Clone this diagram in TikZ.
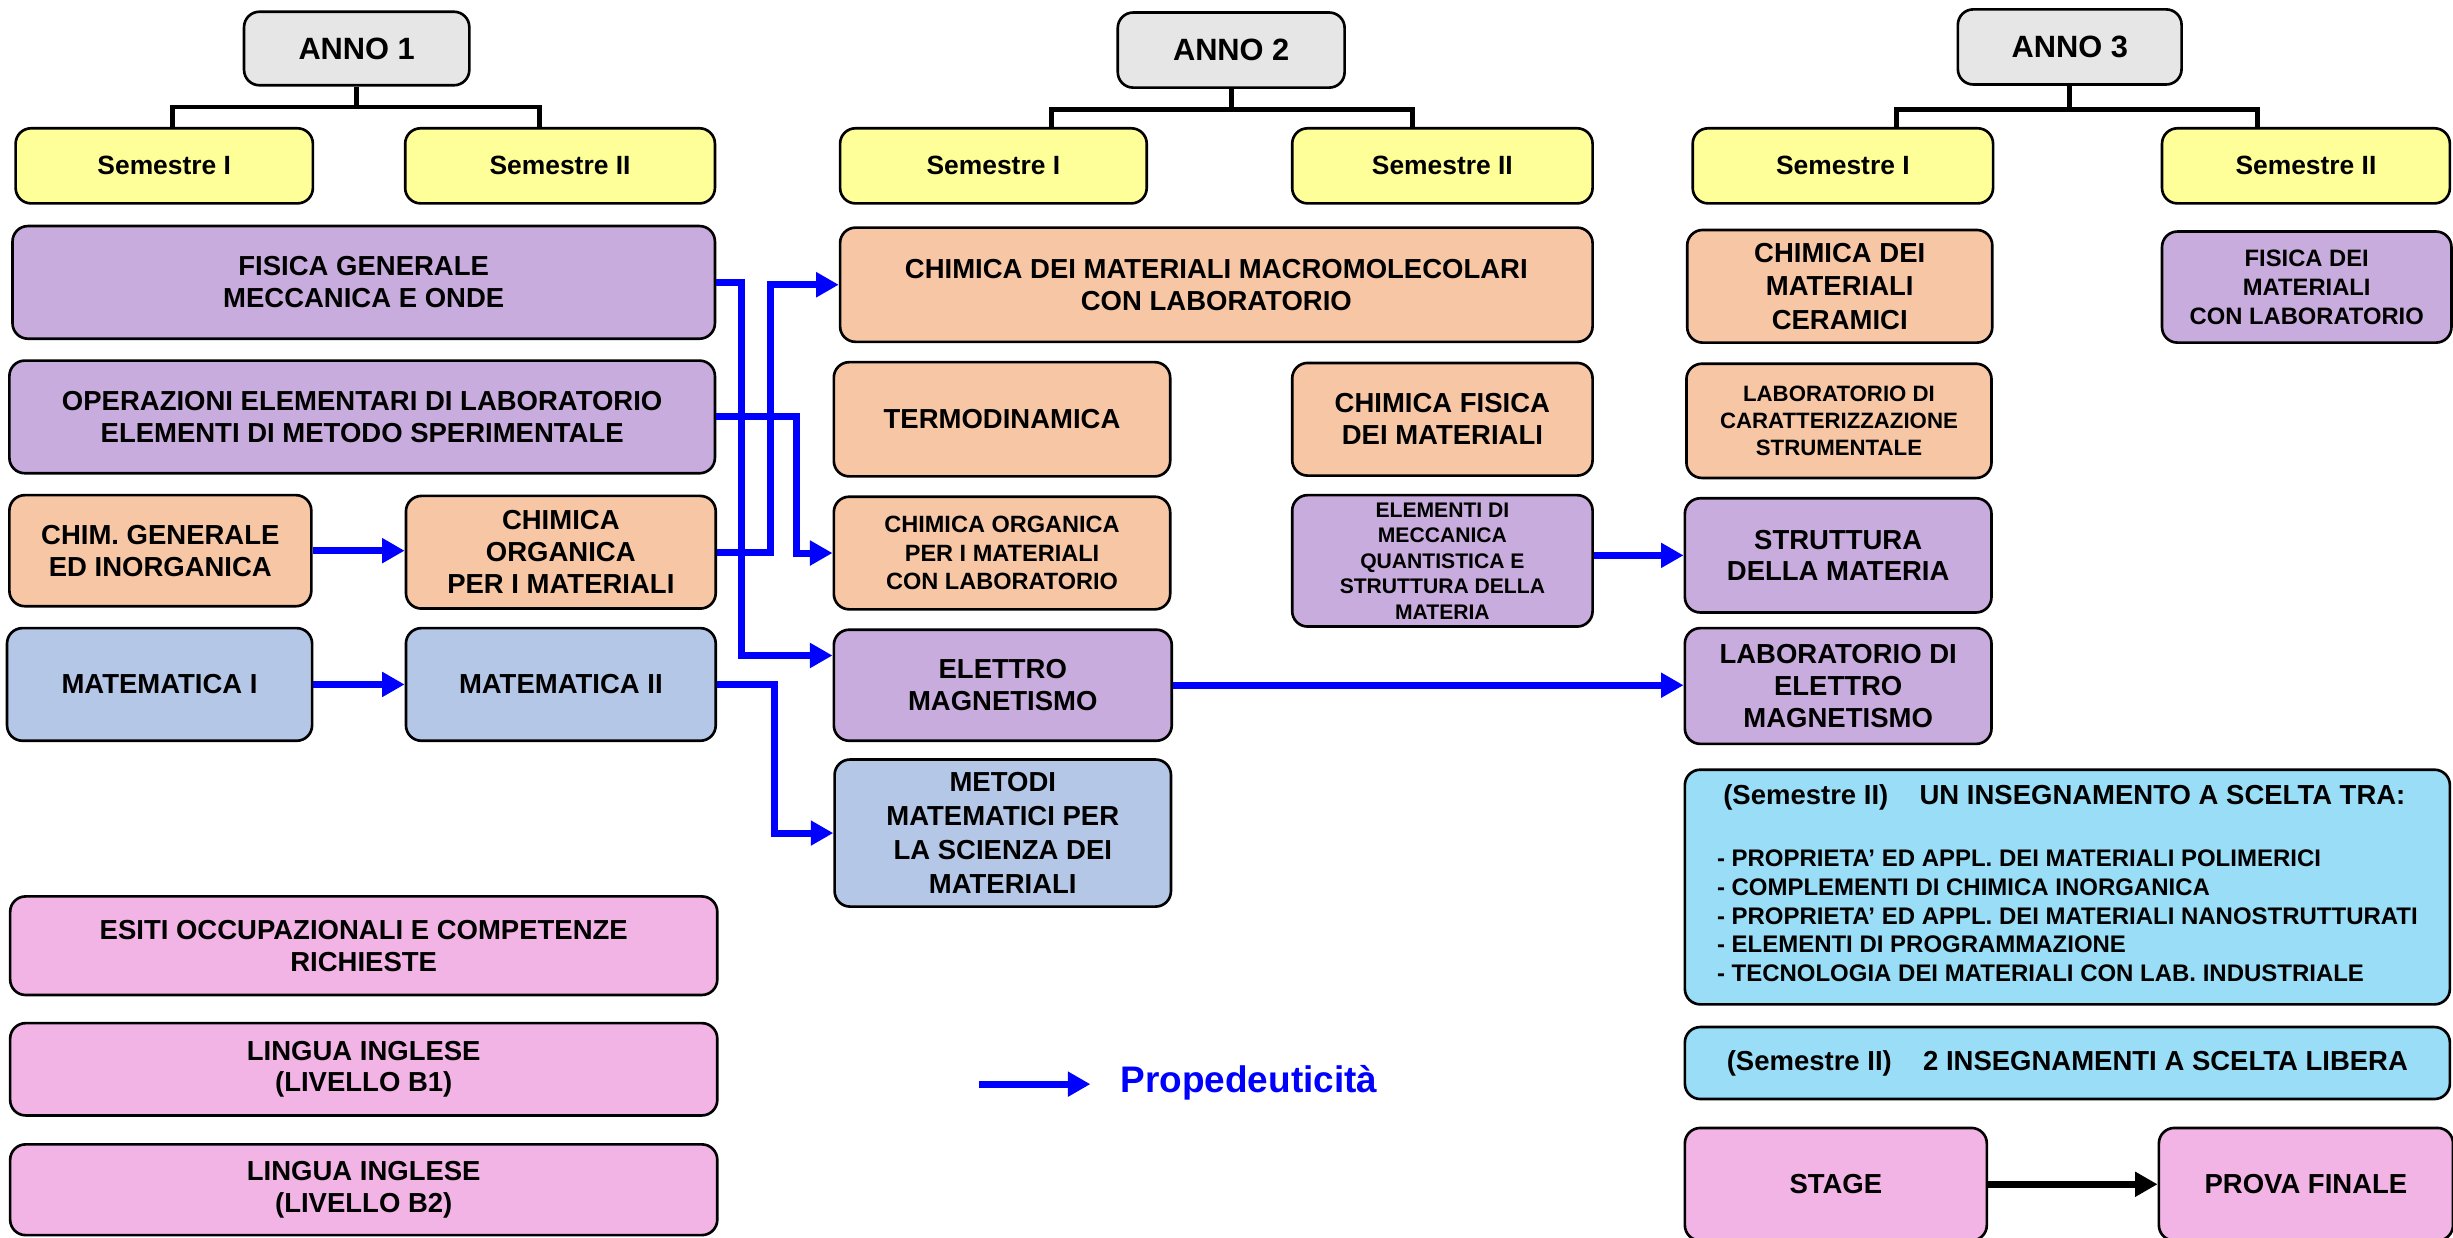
\documentclass[tikz,border=0pt]{standalone}
\usepackage{fontspec}
\setmainfont{Liberation Sans}
\usetikzlibrary{arrows.meta}

\definecolor{cgray}{RGB}{230,230,230}
\definecolor{cyellow}{RGB}{255,255,153}
\definecolor{cphys}{RGB}{201,172,222}
\definecolor{cchem}{RGB}{247,199,165}
\definecolor{cmath}{RGB}{180,199,231}
\definecolor{cpink}{RGB}{241,180,229}
\definecolor{ccyan}{RGB}{153,221,247}
\definecolor{propblue}{RGB}{0,0,255}

\tikzset{
    course/.style={draw, line width=1.2pt, rounded corners=7pt, align=center, inner sep=1pt,
        font=\bfseries\fontsize{12.5}{14.5}\selectfont},
    sz/.style 2 args={minimum width=#1*0.025cm, minimum height=#2*0.025cm},
    annobox/.style={course, fill=cgray, font=\bfseries\fontsize{14}{16}\selectfont},
    sembox/.style={course, fill=cyellow, font=\bfseries\fontsize{12}{14}\selectfont},
    phys/.style={course, fill=cphys},
    chem/.style={course, fill=cchem},
    mathbox/.style={course, fill=cmath},
    other/.style={course, fill=cpink},
    choice/.style={course, fill=ccyan},
    prop/.style={draw=propblue, line width=3.2pt, -{Triangle[length=0.36cm,width=0.38cm]}},
    blackarrow/.style={draw=black, line width=3.2pt, -{Triangle[length=0.36cm,width=0.38cm]}},
    tree/.style={line width=2.2pt},
}

\begin{document}
\begin{tikzpicture}[x=0.025cm, y=-0.025cm]
    \useasboundingbox (0,0) rectangle (1568,791);

    % years and semesters
    \node[annobox, sz={144}{47}] (anno1) at (228,31) {ANNO 1};
    \node[annobox, sz={145}{48}] (anno2) at (787,32) {ANNO 2};
    \node[annobox, sz={143}{48}] (anno3) at (1323,30) {ANNO 3};

    \node[sembox, sz={190}{48}] (s11) at (105,106) {Semestre I};
    \node[sembox, sz={198}{48}] (s12) at (358,106) {Semestre II};
    \node[sembox, sz={196}{48}] (s21) at (635,106) {Semestre I};
    \node[sembox, sz={192}{48}] (s22) at (922,106) {Semestre II};
    \node[sembox, sz={192}{48}] (s31) at (1178,106) {Semestre I};
    \node[sembox, sz={184}{48}] (s32) at (1474,106) {Semestre II};

    \draw[tree] (anno1.south) -- ++(0,13) coordinate (j1);
    \draw[tree] (j1) -| ([xshift=0.125cm]s11.north);
    \draw[tree] (j1) -| ([xshift=-0.325cm]s12.north);
    \draw[tree] (anno2.south) -- ++(0,13) coordinate (j2);
    \draw[tree] (j2) -| ([xshift=0.925cm]s21.north);
    \draw[tree] (j2) -| ([xshift=-0.475cm]s22.north);
    \draw[tree] (anno3.south) -- ++(0,15) coordinate (j3);
    \draw[tree] (j3) -| ([xshift=0.85cm]s31.north);
    \draw[tree] (j3) -| ([xshift=-0.775cm]s32.north);

    % first year
    \node[phys, sz={449}{72}] (fisgen) at (232.5,180.5) {FISICA GENERALE\\MECCANICA E ONDE};
    \node[phys, sz={451}{72}] (oplab) at (231.5,266.5) {OPERAZIONI ELEMENTARI DI LABORATORIO\\ELEMENTI DI METODO SPERIMENTALE};
    \node[chem, sz={193}{71}] (chimgen) at (102.5,352) {CHIM. GENERALE\\ED INORGANICA};
    \node[chem, sz={198}{72}] (chimorg) at (358.5,353) {CHIMICA\\ORGANICA\\PER I MATERIALI};
    \node[mathbox, sz={195}{72}] (mat1) at (102,437.5) {MATEMATICA I};
    \node[mathbox, sz={198}{72}] (mat2) at (358.5,437.5) {MATEMATICA II};
    \node[other, sz={452}{63}] (esiti) at (232.5,604.5) {ESITI OCCUPAZIONALI E COMPETENZE\\RICHIESTE};
    \node[other, sz={452}{59}] (inglb1) at (232.5,683.5) {LINGUA INGLESE\\(LIVELLO B1)};
    \node[other, sz={452}{58}] (inglb2) at (232.5,760.5) {LINGUA INGLESE\\(LIVELLO B2)};

    % second year
    \node[chem, sz={481}{73}] (macro) at (777.5,182) {CHIMICA DEI MATERIALI MACROMOLECOLARI\\CON LABORATORIO};
    \node[chem, sz={215}{73}] (termo) at (640.5,268) {TERMODINAMICA};
    \node[chem, sz={192}{72}] (chimfis) at (922,268) {CHIMICA FISICA\\DEI MATERIALI};
    \node[chem, sz={215}{72}, font=\bfseries\fontsize{10.7}{12.8}\selectfont] (chimorglab) at (640.5,353.5) {CHIMICA ORGANICA\\PER I MATERIALI\\CON LABORATORIO};
    \node[phys, sz={192}{84}, font=\bfseries\fontsize{9.6}{11.6}\selectfont] (quanto) at (922,358.5) {ELEMENTI DI\\MECCANICA\\QUANTISTICA E\\STRUTTURA DELLA\\MATERIA};
    \node[phys, sz={216}{71}] (elettro) at (641,438) {ELETTRO\\MAGNETISMO};
    \node[mathbox, sz={215}{94}, font=\bfseries\fontsize{12.5}{15.4}\selectfont] (metodi) at (641,532.5) {METODI\\MATEMATICI PER\\LA SCIENZA DEI\\MATERIALI};

    % third year
    \node[chem, sz={195}{72}, font=\bfseries\fontsize{12.5}{15.2}\selectfont] (ceram) at (1176,183) {CHIMICA DEI\\MATERIALI\\CERAMICI};
    \node[chem, sz={195}{73}, font=\bfseries\fontsize{10.1}{12.4}\selectfont] (labcar) at (1175.5,269) {LABORATORIO DI\\CARATTERIZZAZIONE\\STRUMENTALE};
    \node[phys, sz={196}{73}] (strutt) at (1175,355) {STRUTTURA\\DELLA MATERIA};
    \node[phys, sz={196}{74}] (labelet) at (1175,438.5) {LABORATORIO DI\\ELETTRO\\MAGNETISMO};
    \node[phys, sz={185}{71}, font=\bfseries\fontsize{10.8}{13.1}\selectfont] (fismat) at (1474.5,183.5) {FISICA DEI\\MATERIALI\\CON LABORATORIO};
    \node[choice, sz={489}{150}, align=left] (scelta) at (1321.5,567) {%
        \hspace*{0.1cm}(Semestre II)\hspace{0.5cm}UN INSEGNAMENTO A SCELTA TRA:\\[14pt]
        {\fontsize{10.9}{13}\selectfont
        \begin{tabular}[t]{@{}l@{}}
        - PROPRIETA’ ED APPL. DEI MATERIALI POLIMERICI\\
        - COMPLEMENTI DI CHIMICA INORGANICA\\
        - PROPRIETA’ ED APPL. DEI MATERIALI NANOSTRUTTURATI\\
        - ELEMENTI DI PROGRAMMAZIONE\\
        - TECNOLOGIA DEI MATERIALI CON LAB. INDUSTRIALE
        \end{tabular}}};
    \node[choice, sz={489}{46}] (libera) at (1321.5,679.5) {(Semestre II)\hspace{0.5cm}2 INSEGNAMENTI A SCELTA LIBERA};
    \node[other, sz={193}{72}] (stage) at (1173.5,757) {STAGE};
    \node[other, sz={188}{72}] (prova) at (1474,757) {PROVA FINALE};

    % propedeuticita
    \draw[prop] (chimgen.east) -- (chimgen.east -| chimorg.west);
    \draw[prop] (mat1.east) -- (mat1.east -| mat2.west);
    \draw[prop] (fisgen.east) -- ++(16,0) |- ([yshift=0.475cm]elettro.west);
    \draw[prop] (chimorg.east) -- ++(34,0) |- (macro.west);
    \draw[prop] (oplab.east) -- ++(51,0) |- (chimorglab.west);
    \draw[prop] (mat2.east) -- ++(37,0) |- (metodi.west);
    \draw[prop] (elettro.east) -- (elettro.east -| labelet.west);
    \draw[prop] (quanto.east |- strutt.west) -- (strutt.west);
    \draw[blackarrow] (stage.east) -- (prova.west);

    % legend
    \coordinate (legstart) at (626,693);
    \coordinate (legtip) at (697,693);
    \draw[prop] (legstart) -- (legtip);
    \node[anchor=west, inner sep=0pt, text=propblue, font=\bfseries\fontsize{16.8}{19}\selectfont] (legtext) at (716,692) {Propedeuticità};
\end{tikzpicture}
\end{document}
